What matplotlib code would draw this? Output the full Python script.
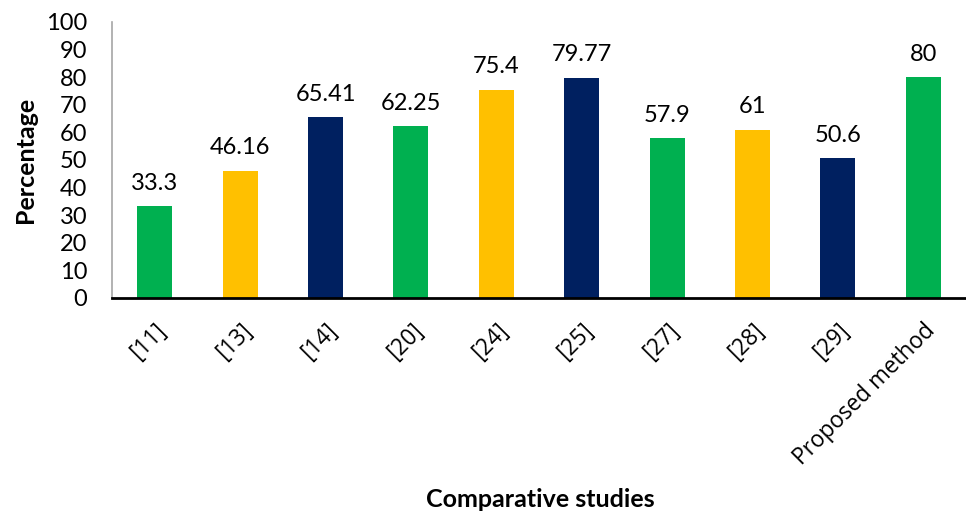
import matplotlib
matplotlib.use("Agg")
import matplotlib.pyplot as plt

plt.rcParams['font.family'] = ['Lato', 'DejaVu Sans']

studies = ['[11]', '[13]', '[14]', '[20]', '[24]', '[25]', '[27]', '[28]', '[29]', 'Proposed method']
percentages = [33.3, 46.16, 65.41, 62.25, 75.4, 79.77, 57.9, 61, 50.6, 80]
value_labels = ['33.3', '46.16', '65.41', '62.25', '75.4', '79.77', '57.9', '61', '50.6', '80']
bar_colors = ['#00B050', '#FFC000', '#002060', '#00B050', '#FFC000',
              '#002060', '#00B050', '#FFC000', '#002060', '#00B050']

fig = plt.figure(figsize=(9.66, 5.15), dpi=100)
ax = fig.add_axes([0.116, 0.4214, 0.884, 0.5359])

x = range(len(studies))
bars = ax.bar(x, percentages, width=0.41, color=bar_colors)

for b, txt in zip(bars, value_labels):
    ax.annotate(txt, (b.get_x() + b.get_width() / 2, b.get_height()),
                xytext=(0, 9), textcoords='offset points',
                ha='center', va='bottom', fontsize=17)

ax.set_xlim(-0.5, len(studies) - 0.5)
ax.set_ylim(0, 100)
ax.set_yticks(range(0, 101, 10))
ax.tick_params(axis='y', length=0, labelsize=17, pad=18)
ax.tick_params(axis='x', length=0, pad=15)
ax.set_xticks(list(x))
ax.set_xticklabels(studies, rotation=45, ha='right', rotation_mode='anchor',
                   family=['Open Sans', 'DejaVu Sans'], fontsize=16.3)

for side in ['top', 'right']:
    ax.spines[side].set_visible(False)
ax.spines['left'].set_color('#a6a6a6')
ax.spines['left'].set_linewidth(1.2)
ax.spines['bottom'].set_color('black')
ax.spines['bottom'].set_linewidth(2)

ax.set_ylabel('Percentage', fontsize=18, fontweight='bold', labelpad=6)
fig.text(0.559, 0.0155, 'Comparative studies', ha='center', va='baseline',
         fontsize=18, fontweight='bold')

fig.savefig('out.png', dpi=100)
